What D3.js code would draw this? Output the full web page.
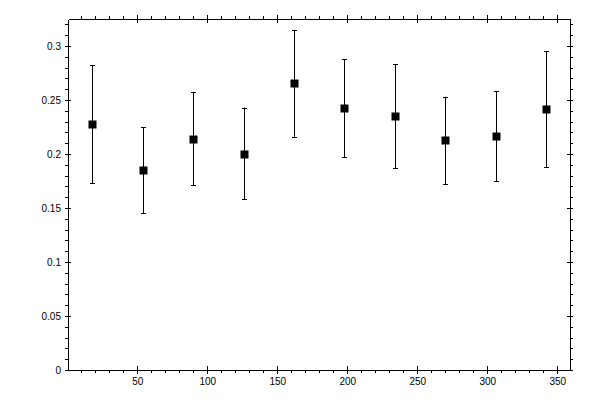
<!DOCTYPE html>
<html>
<head>
<meta charset="utf-8">
<script src="https://cdn.jsdelivr.net/npm/d3@7"></script>
<style>
  body { margin: 0; background: #fff; }
  .tick text { font-family: "Liberation Sans", Arial, sans-serif; font-size: 10px; fill: #000; }
  .domain, .tick line { stroke: #000; stroke-width: 1; shape-rendering: crispEdges; }
</style>
</head>
<body>
<div id="chart"></div>
<script>
// bin centres (x) with mean value and error bar ends
var xValues = [18, 54, 90, 126, 162, 198, 234, 270, 306, 342];
var yValues = [0.228, 0.185, 0.214, 0.200, 0.266, 0.243, 0.235, 0.213, 0.217, 0.242];
var yLow    = [0.173, 0.145, 0.171, 0.158, 0.216, 0.197, 0.187, 0.172, 0.175, 0.188];
var yHigh   = [0.282, 0.225, 0.257, 0.243, 0.315, 0.288, 0.283, 0.253, 0.258, 0.295];

var xTicks = [50, 100, 150, 200, 250, 300, 350];
var yTicks = [0, 0.05, 0.1, 0.15, 0.2, 0.25, 0.3];

var svgWidth = 600;
var svgHeight = 400;

var svg = d3.select("#chart")
  .append("svg")
  .attr("width", svgWidth)
  .attr("height", svgHeight);

// plot frame edges (window.top is reserved, hence the names)
var plotLeft = 68, plotRight = 570, plotTop = 19, plotBottom = 370;

var x = d3.scaleLinear().domain([0.5, 359.1]).range([plotLeft, plotRight]);
var y = d3.scaleLinear().domain([0, 0.325]).range([plotBottom, plotTop]);

var xMinor = d3.range(10, 360, 10).filter(d => d % 50 !== 0);
var yMinor = d3.range(1, 33).map(d => d / 100).filter(d => Math.round(d * 100) % 5 !== 0);

// minor ticks, pointing outward on all four sides
svg.append("g").attr("transform", `translate(0,${plotBottom})`)
  .call(d3.axisBottom(x).tickValues(xMinor).tickFormat("").tickSize(3).tickSizeOuter(0));
svg.append("g").attr("transform", `translate(0,${plotTop})`)
  .call(d3.axisTop(x).tickValues(xMinor).tickFormat("").tickSize(3).tickSizeOuter(0));
svg.append("g").attr("transform", `translate(${plotLeft},0)`)
  .call(d3.axisLeft(y).tickValues(yMinor).tickFormat("").tickSize(3).tickSizeOuter(0));
svg.append("g").attr("transform", `translate(${plotRight},0)`)
  .call(d3.axisRight(y).tickValues(yMinor).tickFormat("").tickSize(3).tickSizeOuter(0));

// major ticks cross the axis line
var gx = svg.append("g").attr("transform", `translate(0,${plotBottom})`)
  .call(d3.axisBottom(x).tickValues(xTicks).tickSize(4).tickSizeOuter(0).tickPadding(4));
gx.selectAll(".tick line").attr("y1", -4);

var gxt = svg.append("g").attr("transform", `translate(0,${plotTop})`)
  .call(d3.axisTop(x).tickValues(xTicks).tickFormat("").tickSize(4).tickSizeOuter(0));
gxt.selectAll(".tick line").attr("y1", 4);

var gy = svg.append("g").attr("transform", `translate(${plotLeft},0)`)
  .call(d3.axisLeft(y).tickValues(yTicks).tickFormat(d3.format("~g"))
    .tickSize(3).tickSizeOuter(0).tickPadding(4));
gy.selectAll(".tick line").attr("x1", 3);

var gyr = svg.append("g").attr("transform", `translate(${plotRight},0)`)
  .call(d3.axisRight(y).tickValues(yTicks).tickFormat("").tickSize(3).tickSizeOuter(0));
gyr.selectAll(".tick line").attr("x1", -3);

// error bars
var bars = svg.append("g").selectAll("g").data(xValues).enter().append("g");
bars.append("line")
  .attr("x1", d => Math.round(x(d)) + 0.5)
  .attr("x2", d => Math.round(x(d)) + 0.5)
  .attr("y1", (d, i) => y(yLow[i]))
  .attr("y2", (d, i) => y(yHigh[i]))
  .attr("stroke", "#000");
bars.append("line")
  .attr("x1", d => Math.round(x(d)) - 2)
  .attr("x2", d => Math.round(x(d)) + 3)
  .attr("y1", (d, i) => Math.round(y(yHigh[i])) + 0.5)
  .attr("y2", (d, i) => Math.round(y(yHigh[i])) + 0.5)
  .attr("stroke", "#000");
bars.append("line")
  .attr("x1", d => Math.round(x(d)) - 2)
  .attr("x2", d => Math.round(x(d)) + 3)
  .attr("y1", (d, i) => Math.round(y(yLow[i])) + 0.5)
  .attr("y2", (d, i) => Math.round(y(yLow[i])) + 0.5)
  .attr("stroke", "#000");

// square markers
bars.append("rect")
  .attr("x", d => Math.round(x(d)) - 3.5)
  .attr("y", (d, i) => Math.round(y(yValues[i])) - 3.5)
  .attr("width", 8)
  .attr("height", 8)
  .attr("fill", "#000");
</script>
</body>
</html>
